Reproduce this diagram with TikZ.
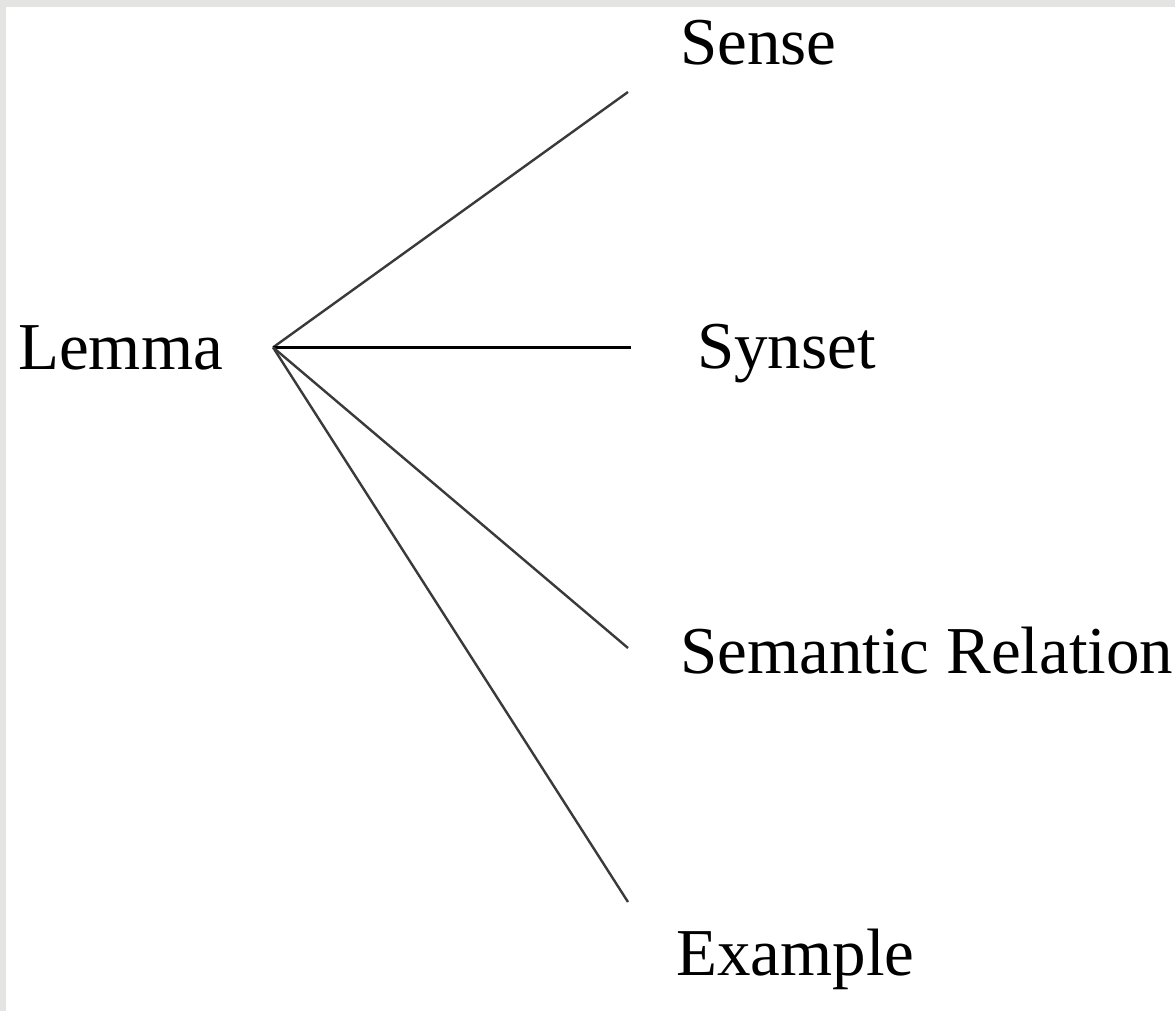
\documentclass[tikz,border=0pt]{standalone}
\usepackage{fontspec}
\setmainfont{Liberation Serif}
\usetikzlibrary{positioning}

\definecolor{framegray}{HTML}{E4E4E3}
\definecolor{branchgray}{HTML}{3A3A3A}

\begin{document}
\begin{tikzpicture}[
    x=1pt, y=-1pt,
    % Node styles
    term/.style={
        inner sep=0pt, anchor=base west,
        font=\fontsize{67}{80}\selectfont
    },
    branch/.style={line width=2.4pt, draw=branchgray},
    mainbranch/.style={line width=3.6pt, draw=black},
]

% ═══════════════════════════════════════════════════════════════
% Canvas and grey frame (top and left edges)
% ═══════════════════════════════════════════════════════════════

\useasboundingbox (0,0) rectangle (1175,1011);
\fill[white] (0,0) rectangle (1175,1011);
\fill[framegray] (0,0) rectangle (1175,7);
\fill[framegray] (0,0) rectangle (6,1011);

% ═══════════════════════════════════════════════════════════════
% Terms
% ═══════════════════════════════════════════════════════════════

\node[term] (lemma)   at (18,369)  {Lemma};
\node[term] (sense)   at (680,65)  {Sense};
\node[term] (synset)  at (697,368) {Synset};
\node[term] (semrel)  at (680,673) {Semantic Relation};
\node[term] (example) at (676,975) {Example};

% Branch point and line ends
\coordinate[right=50pt of lemma.east] (hub);
\coordinate (sense-end)   at (628,92);
\coordinate[right=358pt of hub] (synset-end);
\coordinate (semrel-end)  at (628,648);
\coordinate (example-end) at (628,902);

% ═══════════════════════════════════════════════════════════════
% Branches
% ═══════════════════════════════════════════════════════════════

\draw[branch] (hub) -- (sense-end);
\draw[mainbranch] (hub) -- (synset-end);
\draw[branch] (hub) -- (semrel-end);
\draw[branch] (hub) -- (example-end);

\end{tikzpicture}
\end{document}
